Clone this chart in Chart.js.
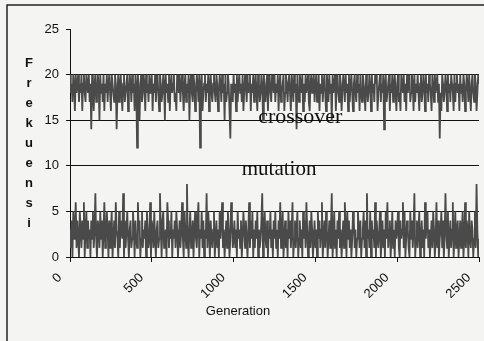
<!DOCTYPE html>
<html>
<head>
<meta charset="utf-8">
<script src="https://cdn.jsdelivr.net/npm/chart.js@4/dist/chart.umd.min.js"></script>
<style>
  html, body { margin: 0; padding: 0; background: #f4f4f2; }
  #wrap { width: 484px; height: 341px; }
</style>
</head>
<body>
<div id="wrap"><canvas id="chart" width="484" height="341"></canvas></div>
<script>
// data: one sample every 5 generations
const crossover = [
  20,18,19,17,20,19,16,20,18,19,20,17,19,18,20,16,19,20,18,17,20,19,18,20,17,
  19,14,20,18,16,19,20,17,18,20,19,15,20,18,19,17,20,16,19,18,20,17,19,20,18,
  16,20,19,18,17,20,19,14,18,20,17,19,20,18,16,19,20,17,18,19,20,16,18,20,19,
  17,20,18,19,16,20,19,12,20,18,15,19,20,17,18,20,19,16,20,18,19,17,20,18,19,
  20,16,19,18,20,17,19,20,18,16,20,19,17,18,20,19,15,20,18,19,17,20,16,19,20,
  18,19,20,17,18,16,20,19,18,20,17,19,20,18,16,19,20,17,19,18,20,15,19,20,18,
  17,20,19,16,18,20,19,17,20,12,19,20,16,18,19,20,17,19,18,20,16,19,20,18,17,
  19,20,18,17,20,19,16,18,20,19,17,20,18,19,15,20,17,18,20,19,16,13,19,18,17,
  20,18,19,16,20,17,19,20,18,19,17,20,16,18,20,19,17,20,18,19,20,16,19,18,20,
  17,19,20,18,16,20,19,17,18,20,19,15,20,18,17,19,20,16,19,20,18,17,20,19,18,
  20,17,19,18,20,16,19,20,17,18,19,20,16,18,20,19,17,19,20,18,16,20,19,17,20,
  18,19,14,20,18,17,20,19,18,20,16,19,17,20,18,19,20,17,16,19,20,18,19,20,17,
  19,20,17,18,20,16,19,18,20,17,19,20,18,16,20,19,17,20,18,19,15,20,18,19,20,
  16,19,20,18,17,20,19,16,18,20,19,17,20,18,19,16,20,17,19,20,18,16,19,20,18,
  17,20,18,19,16,20,18,17,20,19,18,16,20,19,17,18,20,19,16,20,18,19,17,20,19,
  20,16,18,19,20,17,19,18,20,14,19,20,17,18,19,20,16,19,18,20,17,19,20,18,16,
  19,20,17,18,16,20,19,18,20,17,19,16,20,18,19,20,17,18,20,19,16,20,17,19,18,
  20,18,16,19,20,17,18,20,19,16,20,18,19,17,20,19,18,16,20,19,17,20,18,19,20,
  17,19,13,18,16,20,19,17,18,20,19,16,20,18,19,17,20,19,18,16,20,17,19,20,18,
  19,16,20,18,19,17,20,19,16,18,20,19,17,20,18,16,19,20,18,17,20,19,16,18,20,
  19
];
const mutation = [
  3,1,4,0,5,2,3,6,1,4,2,0,5,3,1,4,2,6,0,3,5,1,4,2,3,
  0,4,2,5,1,3,7,2,0,4,3,1,5,2,4,0,3,6,1,2,5,3,0,4,1,
  3,5,0,2,4,1,6,3,2,0,5,1,4,3,2,7,0,4,1,3,5,2,0,3,4,
  1,2,5,3,0,4,2,1,6,3,4,0,2,5,1,3,2,4,0,5,3,1,2,6,0,
  4,3,1,5,2,0,3,4,1,2,7,3,0,4,5,1,2,3,0,6,4,1,3,2,5,
  0,3,2,4,1,5,3,0,2,4,1,3,6,2,0,5,3,1,8,2,0,3,5,1,2,
  4,0,3,5,2,1,4,6,0,3,2,5,1,4,0,3,2,7,1,5,3,0,4,2,1,
  3,5,0,2,4,1,3,0,5,2,4,6,1,3,0,2,4,1,5,3,0,2,6,4,1,
  2,4,1,3,0,5,2,3,1,4,0,2,5,3,1,4,2,0,3,6,1,4,2,5,0,
  3,1,4,2,5,0,3,1,2,4,7,0,3,5,2,1,4,0,3,2,5,1,3,0,4,
  2,5,1,3,0,4,2,6,1,3,5,0,2,4,1,3,0,5,2,4,1,3,6,0,2,
  4,1,3,5,0,2,4,1,3,0,5,2,4,1,6,3,0,2,4,1,5,3,0,2,4,
  1,3,0,5,2,4,1,3,6,0,2,4,1,5,3,0,2,4,1,3,7,0,2,5,1,
  3,0,4,2,5,1,3,0,2,4,1,6,3,0,5,2,4,1,3,0,2,5,4,1,3,
  0,2,5,3,1,4,0,2,3,5,1,4,0,7,2,3,1,5,0,4,2,3,1,6,0,
  4,2,1,3,5,0,2,4,1,3,0,5,2,6,1,3,4,0,2,5,1,3,0,4,2,
  3,5,1,0,4,2,3,6,1,5,0,2,4,3,1,0,5,2,4,1,3,7,0,2,4,
  1,3,5,0,2,4,1,3,0,6,2,4,5,1,3,0,2,4,1,5,3,0,2,6,1,
  4,0,2,3,5,1,4,0,2,7,3,1,5,0,2,4,1,3,6,0,2,5,1,3,4,
  0,2,4,1,3,5,0,2,6,1,4,3,0,5,2,1,4,3,0,2,5,1,8,3,0,
  2
];
const sampleStep = 5;
const generation = crossover.map((_, i) => i * sampleStep);
const yTitle = 'Frekuensi';
const xTitle = 'Generation';

const labelsPlugin = {
  id: 'labels',
  beforeDraw(chart) {
    const c = chart.ctx;
    c.save();
    c.fillStyle = '#f4f4f2';
    c.fillRect(0, 0, chart.width, chart.height);
    c.restore();
  },
  afterDraw(chart) {
    const c = chart.ctx;
    const x = chart.scales.x, y = chart.scales.y;
    c.save();
    // frame of the scanned figure
    c.strokeStyle = '#222';
    c.lineWidth = 1.5;
    c.beginPath();
    c.moveTo(7, chart.height);
    c.lineTo(7, 5);
    c.lineTo(chart.width, 5);
    c.stroke();

    // stacked y title
    c.fillStyle = '#111';
    c.font = 'bold 13px "Liberation Sans", Arial, sans-serif';
    c.textAlign = 'center';
    c.textBaseline = 'middle';
    [...yTitle].forEach((ch, i) => c.fillText(ch, 29, 63 + i * 20));

    // x title
    c.font = '13px "Liberation Sans", Arial, sans-serif';
    c.fillText(xTitle, 238, 311);

    // series annotations
    c.font = '22px "Liberation Serif", "Times New Roman", serif';
    c.textAlign = 'left';
    c.textBaseline = 'alphabetic';
    c.fillText('crossover', x.getPixelForValue(1150), y.getPixelForValue(14.7));
    c.font = '21px "Liberation Serif", "Times New Roman", serif';
    c.fillText('mutation', x.getPixelForValue(1050), y.getPixelForValue(9.0));
    c.restore();
  }
};

const tickFont = { family: '"Liberation Sans", Arial', size: 13 };

new Chart(document.getElementById('chart'), {
  type: 'line',
  data: {
    labels: generation,
    datasets: [
      { label: 'crossover', data: crossover, borderColor: '#4a4a4a', borderWidth: 1.8, pointRadius: 0, tension: 0 },
      { label: 'mutation', data: mutation, borderColor: '#4a4a4a', borderWidth: 1.8, pointRadius: 0, tension: 0 }
    ]
  },
  options: {
    responsive: false,
    animation: false,
    layout: { padding: { top: 29, right: 5, left: 0, bottom: 0 } },
    plugins: { legend: { display: false }, tooltip: { enabled: false } },
    scales: {
      x: {
        type: 'linear',
        min: 0, max: 2500,
        afterFit: (s) => { s.height = 84; s.paddingRight = 0; s.paddingLeft = 0; },
        border: { color: '#111', width: 1 },
        grid: { drawOnChartArea: false, drawTicks: true, tickLength: 5, tickColor: '#111' },
        ticks: {
          stepSize: 500, maxRotation: 45, minRotation: 45, color: '#111', font: tickFont, padding: -2,
          callback: (v) => String(v) + '    '
        }
      },
      y: {
        min: 0, max: 25,
        afterFit: (s) => { s.width = 70; s.paddingTop = 0; },
        border: { color: '#111', width: 1 },
        grid: {
          color: (ctx) => (ctx.tick && ctx.tick.value > 0 && ctx.tick.value < 25) ? '#111' : 'rgba(0,0,0,0)',
          tickLength: 4, tickColor: '#111'
        },
        ticks: { stepSize: 5, color: '#111', font: tickFont, padding: 7 }
      }
    }
  },
  plugins: [labelsPlugin]
});
</script>
</body>
</html>
